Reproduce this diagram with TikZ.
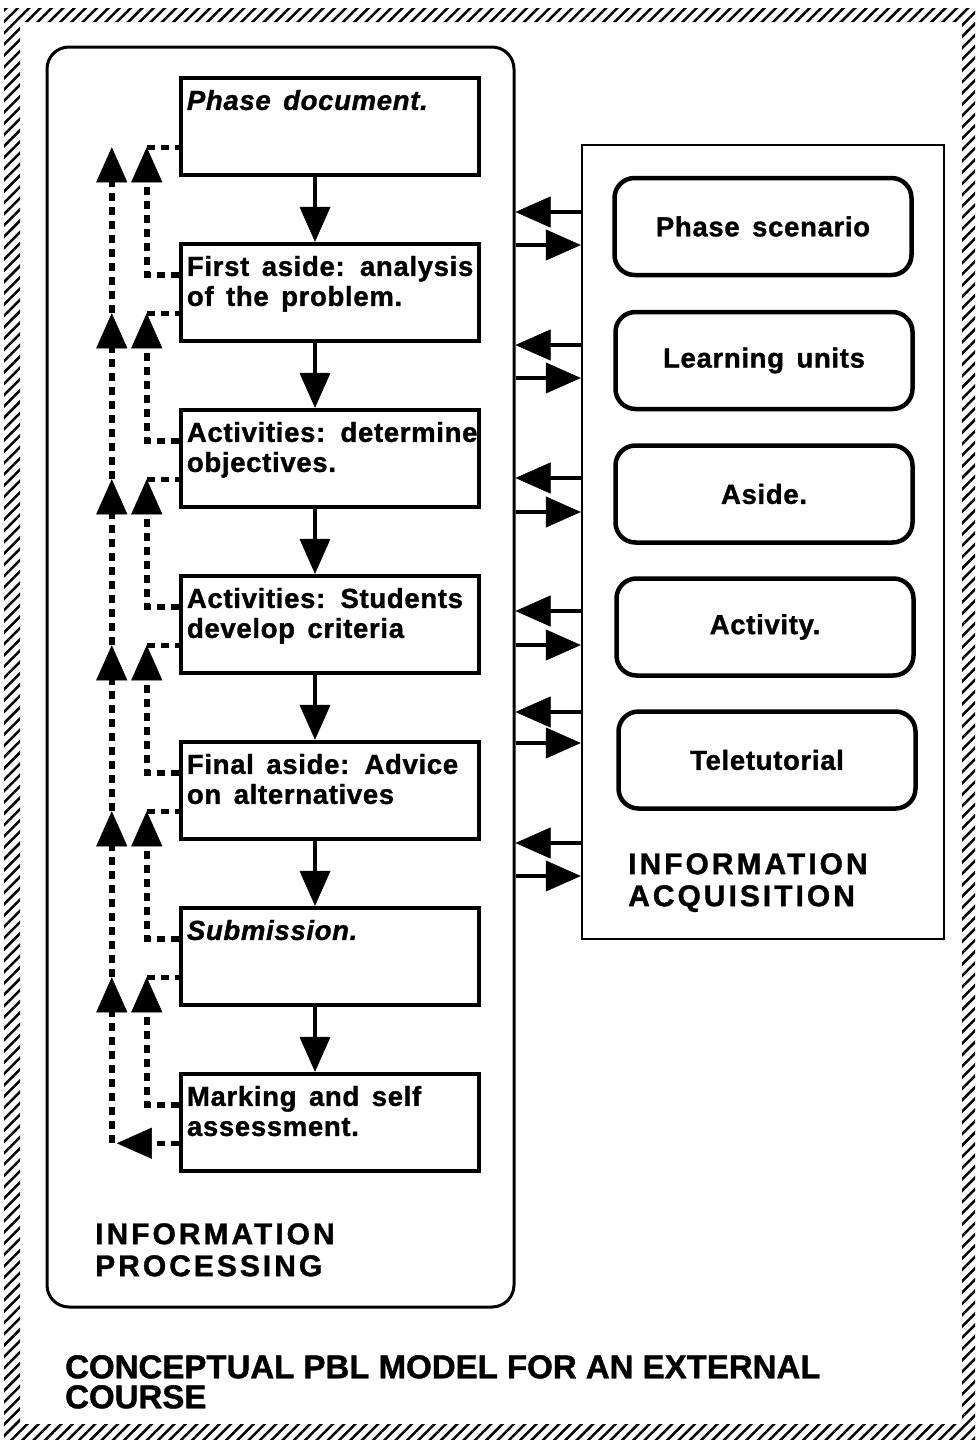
\documentclass[tikz,border=0pt]{standalone}
\usepackage{fontspec}
\setmainfont{Liberation Sans}[LetterSpace=2.5,WordSpace=1.5,BoldFeatures={FakeBold=1.2},BoldItalicFeatures={FakeBold=1.2}]
\newfontfamily\capsfont{Liberation Sans}[LetterSpace=10,BoldFeatures={FakeBold=1.2}]
\newfontfamily\titlefont{Liberation Sans}[BoldFeatures={FakeBold=1.2}]
\usetikzlibrary{arrows.meta,patterns.meta}

\begin{document}
\begin{tikzpicture}[x=1pt,y=-1pt,
    tip/.style={-{Triangle[width=31pt,length=35pt,line width=0.5pt]}},
    flow/.style={tip,line width=4pt},
    dsh/.style={line width=5.5pt,dash pattern=on 8pt off 6pt},
    pbox/.style={draw,line width=4.5pt,minimum width=298pt,minimum height=97pt,inner sep=0pt},
    ptxt/.style={anchor=north west,align=left,inner sep=0pt,font=\bfseries\fontsize{27.5}{30}\selectfont},
    abox/.style={draw,line width=4.5pt,rounded corners=20pt,minimum width=297pt,minimum height=97pt,font=\bfseries\fontsize{27.5}{30}\selectfont},
    big/.style={anchor=north west,align=left,inner sep=0pt,font=\capsfont\bfseries\fontsize{30}{32}\selectfont}]

    \useasboundingbox (0,0) rectangle (975,1440);
    \fill[pattern={Lines[angle=45,distance=8pt,line width=2.5pt]},even odd rule]
    (4,8) rectangle (975,1440) (20,22) rectangle (962,1424);

    \node[draw,line width=3pt,rounded corners=22pt,minimum width=467pt,minimum height=1260pt] (proc) at (280.5,677) {};
    \node[draw,line width=2.5pt,minimum width=362pt,minimum height=794pt] (acq) at (763,542) {};

    \node[pbox] (p1) at (330,126.5) {};
    \node[pbox] (p2) at (330,292.5) {};
    \node[pbox] (p3) at (330,458.5) {};
    \node[pbox] (p4) at (330,624.5) {};
    \node[pbox] (p5) at (330,790.5) {};
    \node[pbox] (p6) at (330,956.5) {};
    \node[pbox] (p7) at (330,1122.5) {};

    \node[ptxt] (t1) at ([xshift=8pt,yshift=-14pt]p1.north west) {\itshape Phase document.};
    \node[ptxt] (t2) at ([xshift=8pt,yshift=-14pt]p2.north west) {First aside: analysis\\of the problem.};
    \node[ptxt] (t3) at ([xshift=8pt,yshift=-14pt]p3.north west) {Activities: determine\\objectives.};
    \node[ptxt] (t4) at ([xshift=8pt,yshift=-14pt]p4.north west) {Activities: Students\\develop criteria};
    \node[ptxt] (t5) at ([xshift=8pt,yshift=-14pt]p5.north west) {Final aside: Advice\\on alternatives};
    \node[ptxt] (t6) at ([xshift=8pt,yshift=-14pt]p6.north west) {\itshape Submission.};
    \node[ptxt] (t7) at ([xshift=8pt,yshift=-14pt]p7.north west) {Marking and self\\assessment.};

    \draw[flow] ([xshift=-15pt]p1.south) -- ([xshift=-15pt]p2.north);
    \draw[flow] ([xshift=-15pt]p2.south) -- ([xshift=-15pt]p3.north);
    \draw[flow] ([xshift=-15pt]p3.south) -- ([xshift=-15pt]p4.north);
    \draw[flow] ([xshift=-15pt]p4.south) -- ([xshift=-15pt]p5.north);
    \draw[flow] ([xshift=-15pt]p5.south) -- ([xshift=-15pt]p6.north);
    \draw[flow] ([xshift=-15pt]p6.south) -- ([xshift=-15pt]p7.north);

    \draw[dsh,tip] ([yshift=-33pt]p2.north west) -| ([xshift=-32pt,yshift=30pt]p1.south west);
    \draw[dsh] ([xshift=-32pt,yshift=30pt]p1.south west) -- ([yshift=30pt]p1.south west);
    \draw[dsh,tip] ([yshift=-33pt]p3.north west) -| ([xshift=-32pt,yshift=30pt]p2.south west);
    \draw[dsh] ([xshift=-32pt,yshift=30pt]p2.south west) -- ([yshift=30pt]p2.south west);
    \draw[dsh,tip] ([yshift=-33pt]p4.north west) -| ([xshift=-32pt,yshift=30pt]p3.south west);
    \draw[dsh] ([xshift=-32pt,yshift=30pt]p3.south west) -- ([yshift=30pt]p3.south west);
    \draw[dsh,tip] ([yshift=-33pt]p5.north west) -| ([xshift=-32pt,yshift=30pt]p4.south west);
    \draw[dsh] ([xshift=-32pt,yshift=30pt]p4.south west) -- ([yshift=30pt]p4.south west);
    \draw[dsh,tip] ([yshift=-33pt]p6.north west) -| ([xshift=-32pt,yshift=30pt]p5.south west);
    \draw[dsh] ([xshift=-32pt,yshift=30pt]p5.south west) -- ([yshift=30pt]p5.south west);
    \draw[dsh,tip] ([yshift=-33pt]p7.north west) -| ([xshift=-32pt,yshift=30pt]p6.south west);
    \draw[dsh] ([xshift=-32pt,yshift=30pt]p6.south west) -- ([yshift=30pt]p6.south west);

    \draw[dsh,tip] ([yshift=30pt]p7.south west) -- ([xshift=-62pt,yshift=30pt]p7.south west);
    \draw[dsh,tip] ([xshift=-67pt,yshift=30pt]p7.south west) -- ([xshift=-67pt,yshift=30pt]p6.south west);
    \draw[dsh,tip] ([xshift=-67pt,yshift=30pt]p6.south west) -- ([xshift=-67pt,yshift=30pt]p5.south west);
    \draw[dsh,tip] ([xshift=-67pt,yshift=30pt]p5.south west) -- ([xshift=-67pt,yshift=30pt]p4.south west);
    \draw[dsh,tip] ([xshift=-67pt,yshift=30pt]p4.south west) -- ([xshift=-67pt,yshift=30pt]p3.south west);
    \draw[dsh,tip] ([xshift=-67pt,yshift=30pt]p3.south west) -- ([xshift=-67pt,yshift=30pt]p2.south west);
    \draw[dsh,tip] ([xshift=-67pt,yshift=30pt]p2.south west) -- ([xshift=-67pt,yshift=30pt]p1.south west);

    \node[abox] (a1) at (763,226.5) {Phase scenario};
    \node[abox] (a2) at (764,360.5) {Learning units};
    \node[abox] (a3) at (764,494) {Aside.};
    \node[abox] (a4) at (765,627) {Activity.};
    \node[abox] (a5) at (767,760) {Teletutorial};

    \draw[flow] (acq.west |- 0,212) -- (proc.east |- 0,212);
    \draw[flow] (proc.east |- 0,245) -- (acq.west |- 0,245);
    \draw[flow] (acq.west |- 0,345) -- (proc.east |- 0,345);
    \draw[flow] (proc.east |- 0,378) -- (acq.west |- 0,378);
    \draw[flow] (acq.west |- 0,478) -- (proc.east |- 0,478);
    \draw[flow] (proc.east |- 0,512) -- (acq.west |- 0,512);
    \draw[flow] (acq.west |- 0,611) -- (proc.east |- 0,611);
    \draw[flow] (proc.east |- 0,645) -- (acq.west |- 0,645);
    \draw[flow] (acq.west |- 0,712) -- (proc.east |- 0,712);
    \draw[flow] (proc.east |- 0,743) -- (acq.west |- 0,743);
    \draw[flow] (acq.west |- 0,843) -- (proc.east |- 0,843);
    \draw[flow] (proc.east |- 0,876) -- (acq.west |- 0,876);

    \node[big] (ia) at (628,853) {INFORMATION\\ACQUISITION};
    \node[big] (ip) at (95,1223) {INFORMATION\\PROCESSING};
    \node[anchor=north west,align=left,inner sep=0pt,font=\titlefont\bfseries\fontsize{33}{30}\selectfont] (ttl) at (65,1355) {CONCEPTUAL PBL MODEL FOR AN EXTERNAL\\COURSE};
\end{tikzpicture}
\end{document}
